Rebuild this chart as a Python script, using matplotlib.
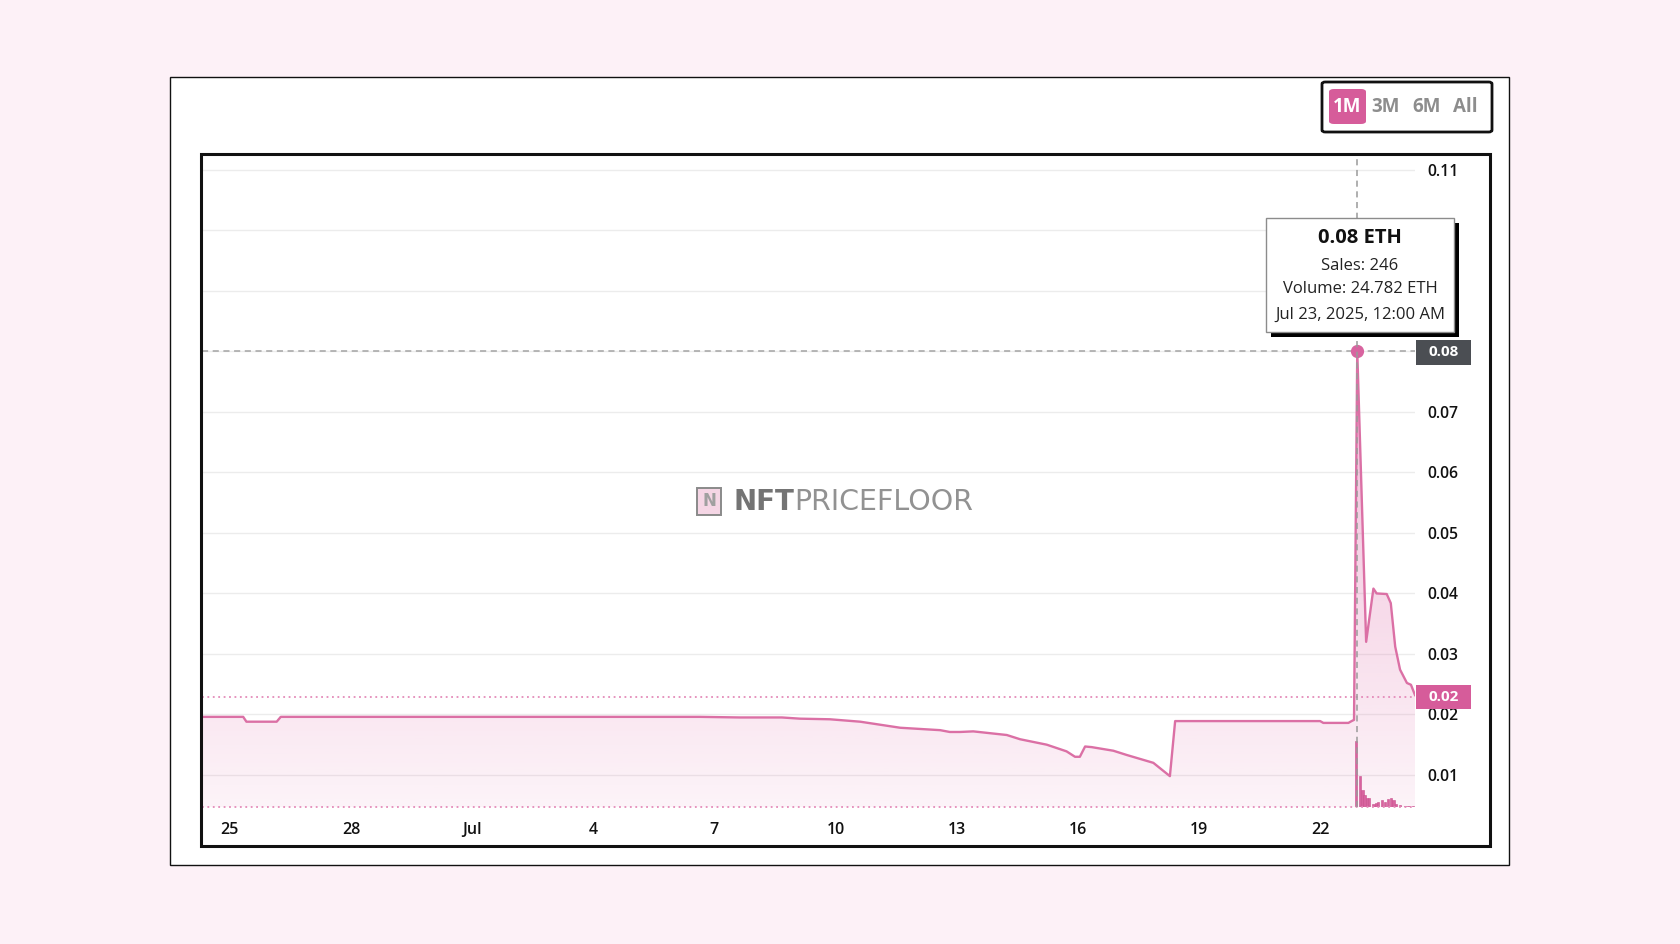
import numpy as np
import matplotlib.pyplot as plt
from matplotlib.patches import Rectangle, FancyBboxPatch

plt.rcParams["font.family"] = ["Open Sans", "DejaVu Sans"]

W, H = 1680, 944

# --- floor price (x = days from Jul 1, 2025; y = ETH) ---
price_day = [-6.69, -5.67, -5.59, -4.84, -4.74, 5.64, 6.63, 7.67, 8.12, 8.86,
             9.61, 10.60, 11.59, 11.83, 12.08, 12.41, 13.24, 13.57, 14.23, 14.72,
             14.93, 15.05, 15.18, 15.34, 15.88, 16.21, 16.87, 17.28, 17.41, 21.00,
             21.08, 21.70, 21.78, 21.84, 21.92, 22.14, 22.32, 22.40, 22.65, 22.75,
             22.86, 22.98, 23.15, 23.25, 23.35]
price_eth = [0.0196, 0.0196, 0.0188, 0.0188, 0.0196, 0.0196, 0.0195, 0.0195, 0.0193, 0.0192,
             0.0188, 0.0178, 0.0174, 0.0171, 0.0171, 0.0172, 0.0166, 0.0159, 0.0150, 0.0139,
             0.0130, 0.0130, 0.0147, 0.0146, 0.0140, 0.0133, 0.0120, 0.0098, 0.0189, 0.0189,
             0.0186, 0.0186, 0.0189, 0.0191, 0.0800, 0.0320, 0.0408, 0.0400, 0.0399, 0.0384,
             0.0312, 0.0274, 0.0252, 0.0249, 0.0232]

# --- volume bars around the Jul 23 spike ---
vol_day = [21.88, 21.99, 22.05, 22.10, 22.17, 22.22, 22.32, 22.39, 22.44, 22.53,
           22.61, 22.68, 22.75, 22.82, 22.88, 22.98, 23.11, 23.19, 23.30]
vol_eth = [6.5, 3.1, 1.7, 1.2, 0.9, 0.9, 0.25, 0.4, 0.47, 0.67,
           0.47, 0.8, 0.87, 0.67, 0.25, 0.15, 0.1, 0.1, 0.05]

# --- axis ticks ---
x_ticks = [-6, -3, 0, 3, 6, 9, 12, 15, 18, 21]
x_labels = ["25", "28", "Jul", "4", "7", "10", "13", "16", "19", "22"]
y_ticks = [0.01, 0.02, 0.03, 0.04, 0.05, 0.06, 0.07, 0.08, 0.09, 0.10, 0.11]
# 0.08-0.10 sit behind the tooltip / value tag in the original
y_labels = ["0.01", "0.02", "0.03", "0.04", "0.05", "0.06", "0.07", "", "", "", "0.11"]

spike_day, spike_price = 21.92, 0.08
last_price = 0.0229

PINK = "#d8639f"
LINE = "#db70a5"
BG = "#fdf1f7"


def fx(x):
    return x / W


def fy(y):
    return 1 - y / H


def frect(x0, y0, x1, y1, **kw):
    return Rectangle((fx(x0), fy(y1)), (x1 - x0) / W, (y1 - y0) / H,
                     transform=fig.transFigure, **kw)


fig = plt.figure(figsize=(W / 100, H / 100), dpi=100, facecolor=BG)

# outer white card
fig.patches.append(frect(170, 77, 1509, 865, facecolor="white",
                         edgecolor="#111111", lw=1.0, zorder=-5))

# --- main axes ---
ax_left, ax_right, ax_top, ax_bot = 202, 1415, 153, 807
ax = fig.add_axes([fx(ax_left), fy(ax_bot), (ax_right - ax_left) / W, (ax_bot - ax_top) / H])
ax.set_facecolor("white")
x0, x1 = -6.69, 23.35
y0, y1 = 0.0047, 0.1128

# gradient fill under the price line
poly = ax.fill_between(price_day, price_eth, y0, facecolor="none", edgecolor="none")
grad = np.zeros((256, 1, 4))
grad[:, 0, :3] = np.array([224, 110, 170]) / 255
grad[:, 0, 3] = np.linspace(0.08, 0.65, 256)
im = ax.imshow(grad, extent=[x0, x1, y0, y1], aspect="auto", origin="lower", zorder=1)
im.set_clip_path(poly.get_paths()[0], transform=ax.transData)

ax.plot(price_day, price_eth, color=LINE, lw=1.7, zorder=3, solid_joinstyle="round")

# crosshair + current price line
ax.axhline(spike_price, color="#a3a3a3", lw=1.1, ls=(0, (4, 3)), zorder=2)
ax.axhline(last_price, color="#e48bb9", lw=1.3, ls=(0, (1, 2)), zorder=2)
ax.plot([spike_day], [spike_price], "o", color=PINK, ms=8.5, zorder=5)

ax.set_xlim(x0, x1)
ax.set_ylim(y0, y1)
ax.set_xticks(x_ticks)
ax.set_xticklabels(x_labels)
ax.set_yticks(y_ticks)
ax.set_yticklabels(y_labels)
ax.yaxis.tick_right()
ax.tick_params(axis="y", length=0, pad=9, labelsize=11.3, labelcolor="#111111")
ax.tick_params(axis="x", length=0, pad=11, labelsize=11.5, labelcolor="#111111")
for lab in ax.get_xticklabels() + ax.get_yticklabels():
    lab.set_fontweight("semibold")
ax.grid(axis="y", color="#ececec", lw=1)
ax.set_axisbelow(True)
for s in ax.spines.values():
    s.set_visible(False)

# --- volume bars on their own scale ---
vax = fig.add_axes(ax.get_position())
vax.patch.set_visible(False)
vax.set_xlim(x0, x1)
vax.set_ylim(0, 64.8)
vax.bar(vol_day, vol_eth, width=0.055, color=PINK, edgecolor="#c9508d", lw=0.4, zorder=2)
vax.axhline(0, color="#e48bb9", lw=1.3, ls=(0, (1, 2)), clip_on=False)
vax.axvline(spike_day, color="#9a9a9a", lw=1.1, ls=(0, (4, 3)), zorder=3)
vax.axis("off")

# right-side value tags
fig.patches.append(frect(1416, 340, 1471, 365, facecolor="#4b4e53", edgecolor="none", zorder=6))
fig.text(fx(1443.5), fy(352.5), "0.08", color="white", fontsize=11, fontweight="bold",
         ha="center", va="center", zorder=7)
fig.patches.append(frect(1416, 685, 1471, 709, facecolor="#d65c9a", edgecolor="none", zorder=6))
fig.text(fx(1443.5), fy(697), "0.02", color="white", fontsize=11, fontweight="bold",
         ha="center", va="center", zorder=7)

# inner chart frame
fig.patches.append(frect(201, 154, 1490, 846, facecolor="none", edgecolor="#111111",
                         lw=2.2, zorder=4))

# --- tooltip ---
fig.patches.append(frect(1271, 223, 1459, 337, facecolor="black", edgecolor="none", zorder=7))
fig.patches.append(frect(1266, 218, 1454, 332, facecolor="white", edgecolor="#8c8c8c",
                         lw=1.0, zorder=8))
fig.text(fx(1360), fy(237.5), "0.08 ETH", fontsize=14.5, fontweight="bold", color="#111111",
         ha="center", va="center", zorder=9)
fig.text(fx(1360), fy(265.5), "Sales: 246", fontsize=12, color="#222222",
         ha="center", va="center", zorder=9)
fig.text(fx(1360), fy(289.5), "Volume: 24.782 ETH", fontsize=12, color="#222222",
         ha="center", va="center", zorder=9)
fig.text(fx(1360), fy(314.5), "Jul 23, 2025, 12:00 AM", fontsize=12, color="#222222",
         ha="center", va="center", zorder=9)

# --- range buttons ---
fig.patches.append(FancyBboxPatch((fx(1322), fy(132)), 170 / W, 50 / H,
                                  boxstyle="round,pad=0,rounding_size=0.002",
                                  transform=fig.transFigure, facecolor="white",
                                  edgecolor="#111111", lw=2, zorder=4))
fig.patches.append(FancyBboxPatch((fx(1329), fy(124)), 37 / W, 35 / H,
                                  boxstyle="round,pad=0,rounding_size=0.003",
                                  transform=fig.transFigure, facecolor="#d65c9a",
                                  edgecolor="none", zorder=5))
buttons = ["1M", "3M", "6M", "All"]
button_x = [1347.5, 1386, 1426.5, 1465]
for name, bx in zip(buttons, button_x):
    fig.text(fx(bx), fy(106.5), name, fontsize=13.5, fontweight="bold",
             color="white" if name == "1M" else "#8d8d8d",
             ha="center", va="center", zorder=6)

# --- watermark ---
fig.patches.append(frect(697, 488, 721, 515, facecolor="#f5d6e5", edgecolor="#8a8a8a",
                         lw=1.4, zorder=2))
fig.text(fx(709), fy(501.5), "N", fontsize=12, fontweight="bold", color="#a0a0a0",
         ha="center", va="center", family="DejaVu Sans", zorder=3)
t1 = fig.text(fx(733), fy(501.5), "NFT", fontsize=20, fontweight="bold", color="#747474",
              ha="left", va="center", family="DejaVu Sans", zorder=3)
ax.annotate("PRICEFLOOR", xy=(1, 0), xycoords=t1, ha="left", va="bottom",
            fontsize=20.5, color="#929292", family="DejaVu Sans", zorder=3,
            annotation_clip=False)

fig.savefig("out.png", dpi=100, facecolor=BG)
